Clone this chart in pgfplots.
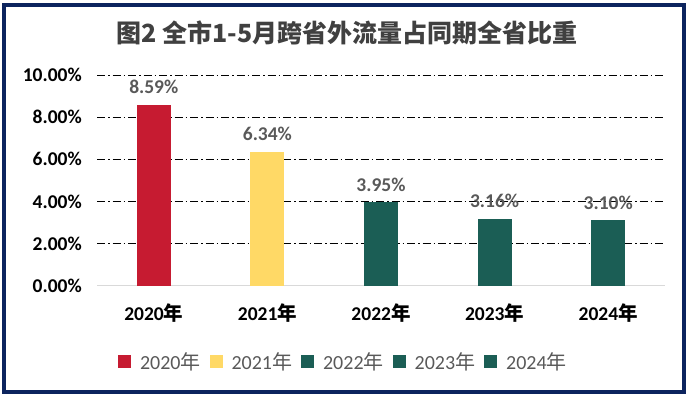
\documentclass[border=0pt]{standalone}
\usepackage{pgfplots}
\pgfplotsset{compat=1.18}
\usepackage{fontspec}
\setmainfont{Carlito}
\newfontfamily\cjk{Noto Sans CJK SC}
\definecolor{cred}{RGB}{198,27,49}
\definecolor{cyellow}{RGB}{255,217,102}
\definecolor{cteal}{RGB}{27,94,85}
\definecolor{frame}{RGB}{12,36,94}
\definecolor{lbl}{RGB}{89,89,89}
\definecolor{ttl}{RGB}{64,64,64}
\begin{document}
\begin{tikzpicture}
\path[use as bounding box] (0pt,0pt) rectangle (690pt,394pt);
\node[font=\cjk\bfseries\fontsize{25}{28}\selectfont, text=ttl] at (347pt,361pt) {图2\ 全市1-5月跨省外流量占同期全省比重};
\begin{axis}[
  at={(97pt,108.3pt)}, anchor=south west,
  scale only axis, width=568pt, height=210.7pt,
  xmin=-0.5, xmax=4.5, ymin=0, ymax=10,
  axis line style={draw=none},
  major tick length=0pt,
  xtick={0,1,2,3,4},
  xticklabels={2020{\cjk 年},2021{\cjk 年},2022{\cjk 年},2023{\cjk 年},2024{\cjk 年}},
  ytick={0,2,4,6,8,10},
  yticklabel={\pgfmathprintnumber[fixed,fixed zerofill,precision=2]{\tick}\%},
  /pgf/number format/assume math mode=true,
  ticklabel style={font=\bfseries\fontsize{19.5}{22}\selectfont, text=black, inner sep=0pt},
  yticklabel style={xshift=-15pt},
  xticklabel style={yshift=-18pt},
  ymajorgrids,
  grid style={black, line width=0.9pt, dash pattern=on 8pt off 3pt on 1.5pt off 3pt},
  extra y ticks={0}, extra y tick labels={},
  extra y tick style={grid style={solid, draw=black!15, line width=1.5pt}},
  ybar, bar width=34pt,
  nodes near coords={\pgfmathprintnumber[fixed,fixed zerofill,precision=2]{\pgfplotspointmeta}\%},
  nodes near coords style={font=\bfseries\fontsize{19.5}{22}\selectfont, text=lbl, anchor=south, inner sep=0pt, yshift=11pt},
  legend columns=5,
  legend style={draw=none, fill=none, at={(axis description cs:0.432,-0.362)}, anchor=center,
    font=\fontsize{20}{22}\selectfont, text=lbl,
    /tikz/every odd column/.append style={column sep=9pt},
    /tikz/every even column/.append style={column sep=9pt},
    nodes={inner sep=0pt}},
  legend image code/.code={\path[#1,draw=none] (0pt,-6.5pt) rectangle (13pt,6.5pt);},
]
\addplot[fill=cred, draw=none, bar shift=0pt] coordinates {(0,8.59)};
\addplot[fill=cyellow, draw=none, bar shift=0pt] coordinates {(1,6.34)};
\addplot[fill=cteal, draw=none, bar shift=0pt] coordinates {(2,3.95)};
\addplot[fill=cteal, draw=none, bar shift=0pt] coordinates {(3,3.16)};
\addplot[fill=cteal, draw=none, bar shift=0pt] coordinates {(4,3.10)};
\legend{2020{\cjk 年},2021{\cjk 年},2022{\cjk 年},2023{\cjk 年},2024{\cjk 年}}
\end{axis}
\draw[line width=4pt, frame] (4pt,2.5pt) rectangle (684pt,389pt);
\end{tikzpicture}
\end{document}
